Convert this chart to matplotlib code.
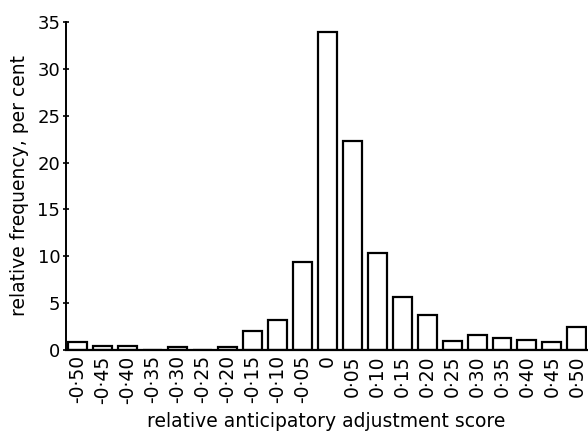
import numpy as np
import matplotlib
matplotlib.use("Agg")
import matplotlib.pyplot as plt

# relative anticipatory adjustment score classes and frequencies (per cent)
scores = ["-0·50", "-0·45", "-0·40", "-0·35", "-0·30", "-0·25", "-0·20",
          "-0·15", "-0·10", "-0·05", "0", "0·05", "0·10", "0·15", "0·20",
          "0·25", "0·30", "0·35", "0·40", "0·45", "0·50"]
freq = [0.8, 0.4, 0.4, 0.0, 0.3, 0.0, 0.3,
        2.0, 3.2, 9.4, 33.9, 22.3, 10.3, 5.6, 3.7,
        0.9, 1.6, 1.3, 1.1, 0.8, 2.4]
yticks = [0, 5, 10, 15, 20, 25, 30, 35]

plt.rcParams['font.family'] = ['DejaVu Sans']

fig = plt.figure(figsize=(5.88, 4.34), dpi=100)
ax = fig.add_axes([0.112, 0.194, 0.886, 0.755])

x = np.arange(len(scores))
ax.bar(x, freq, width=0.76, facecolor="white", edgecolor="black", linewidth=1.6)

ax.set_xlim(-0.48, len(scores) - 1 + 0.4)
ax.set_ylim(0, 35)
ax.set_yticks(yticks)
ax.set_xticks(x)
ax.set_xticklabels(scores, rotation=90, fontsize=13.5)
ax.tick_params(axis='x', length=0, pad=4)
ax.tick_params(axis='y', labelsize=13, length=4, width=1.2, direction='inout', pad=2)

for s in ["top", "right"]:
    ax.spines[s].set_visible(False)
ax.spines["left"].set_linewidth(1.4)
ax.spines["bottom"].set_linewidth(1.6)

ax.set_ylabel("relative frequency, per cent", fontsize=13.5, labelpad=6)
ax.set_xlabel("relative anticipatory adjustment score", fontsize=13.5, labelpad=6)

plt.savefig("out.png", dpi=100)
